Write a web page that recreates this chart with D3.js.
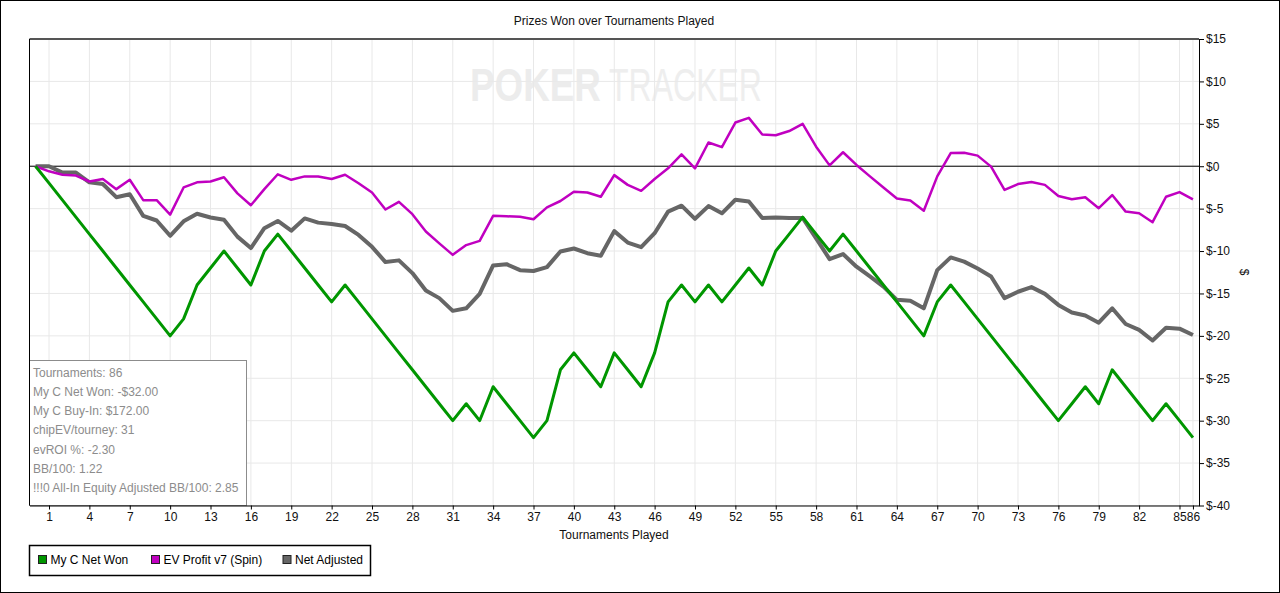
<!DOCTYPE html>
<html>
<head>
<meta charset="utf-8">
<script src="https://cdn.jsdelivr.net/npm/d3@7"></script>
<style>
  body { margin: 0; background: #fff; }
  svg { display: block; font-family: "Liberation Sans", Arial, sans-serif; }
</style>
</head>
<body>
<div class="canvas"></div>
<script>
// cumulative $ after each tournament (index 0 = start)
const netWon = [0,
  -2, -4, -6, -8, -10, -12, -14, -16, -18, -20,
  -18, -14, -12, -10, -12, -14, -10, -8, -10, -12,
  -14, -16, -14, -16, -18, -20, -22, -24, -26, -28,
  -30, -28, -30, -26, -28, -30, -32, -30, -24, -22,
  -24, -26, -22, -24, -26, -22, -16, -14, -16, -14,
  -16, -14, -12, -14, -10, -8, -6, -8, -10, -8,
  -10, -12, -14, -16, -18, -20, -16, -14, -16, -18,
  -20, -22, -24, -26, -28, -30, -28, -26, -28, -24,
  -26, -28, -30, -28, -30, -32];

const evProfit = [0,
  -0.6, -1.0, -1.1, -1.8, -1.5, -2.7, -1.6, -4.0, -4.0, -5.7,
  -2.5, -1.9, -1.8, -1.3, -3.2, -4.6, -2.7, -0.95, -1.6, -1.2,
  -1.2, -1.5, -1.0, -2.0, -3.1, -5.1, -4.2, -5.65, -7.7, -9.1,
  -10.45, -9.3, -8.8, -5.85, -5.9, -5.95, -6.25, -4.85, -4.1, -3.0,
  -3.1, -3.6, -1.05, -2.2, -2.9, -1.5, -0.25, 1.4, -0.25, 2.8,
  2.25, 5.15, 5.7, 3.75, 3.65, 4.15, 5.0, 2.3, 0.1, 1.65,
  0.15, -1.2, -2.5, -3.8, -4.05, -5.25, -1.2, 1.55, 1.6, 1.25,
  -0.05, -2.8, -2.1, -1.85, -2.2, -3.5, -3.9, -3.65, -4.95, -3.4,
  -5.35, -5.55, -6.6, -3.6, -3.05, -3.9];

const netAdjusted = [0,
  0, -0.75, -0.75, -1.9, -2.1, -3.65, -3.3, -5.85, -6.4, -8.2,
  -6.5, -5.6, -6.05, -6.3, -8.3, -9.65, -7.3, -6.45, -7.6, -6.15,
  -6.65, -6.8, -7.05, -8.1, -9.5, -11.3, -11.1, -12.6, -14.65, -15.55,
  -17.05, -16.75, -15.05, -11.7, -11.55, -12.25, -12.35, -11.9, -10.05, -9.7,
  -10.25, -10.55, -7.65, -9.0, -9.55, -7.9, -5.35, -4.65, -6.2, -4.7,
  -5.55, -3.95, -4.15, -6.1, -6.05, -6.1, -6.1, -8.5, -10.95, -10.35,
  -11.85, -13.0, -14.2, -15.75, -15.85, -16.75, -12.25, -10.75, -11.25, -12.05,
  -13.0, -15.55, -14.8, -14.25, -15.05, -16.35, -17.25, -17.6, -18.45, -16.75,
  -18.6, -19.3, -20.55, -19.05, -19.15, -19.9];

const xTicks = [1, 4, 7, 10, 13, 16, 19, 22, 25, 28, 31, 34, 37, 40, 43, 46, 49,
  52, 55, 58, 61, 64, 67, 70, 73, 76, 79, 82, 85, 86];
const yTicks = [15, 10, 5, 0, -5, -10, -15, -20, -25, -30, -35, -40];

const seriesNames = ["My C Net Won", "EV Profit v7 (Spin)", "Net Adjusted"];
const seriesColors = ["#009600", "#c000c0", "#666666"];

const infoLines = [
  "Tournaments: 86",
  "My C Net Won: -$32.00",
  "My C Buy-In: $172.00",
  "chipEV/tourney: 31",
  "evROI %: -2.30",
  "BB/100: 1.22",
  "!!!0 All-In Equity Adjusted BB/100: 2.85"
];

const W = 1280, H = 593;
const plot = { left: 29.5, right: 1199, top: 39, bottom: 505.5 };

const svg = d3.select(".canvas").append("svg")
  .attr("width", W)
  .attr("height", H);

// outer frame
svg.append("rect")
  .attr("x", 0.5).attr("y", 0.5)
  .attr("width", W - 1).attr("height", H - 1)
  .attr("fill", "#fff")
  .attr("stroke", "#000");

const x = d3.scaleLinear().domain([-0.45, 86.45]).range([plot.left, plot.right]);
const y = d3.scaleLinear().domain([-40, 15]).range([plot.bottom, plot.top]);

// title
svg.append("text")
  .attr("x", 614).attr("y", 25)
  .attr("text-anchor", "middle")
  .attr("font-size", 12)
  .attr("fill", "#111")
  .text("Prizes Won over Tournaments Played");

// watermark: squeeze each word into its box
const fitWord = (word, x0, width, weight, color) => {
  const t = svg.append("text")
    .attr("font-size", 46)
    .attr("font-weight", weight)
    .attr("fill", color)
    .text(word);
  const len = t.node().getComputedTextLength();
  t.attr("transform", `translate(${x0}, 101) scale(${width / len}, 1)`);
};
fitWord("POKER", 470, 131, "bold", "#ececec");
fitWord("TRACKER", 609, 153, "normal", "#eeeeee");

// grid
const grid = svg.append("g").attr("class", "grid");
grid.selectAll(".vgrid").data(xTicks).join("line")
  .attr("x1", d => x(d)).attr("x2", d => x(d))
  .attr("y1", plot.top).attr("y2", plot.bottom)
  .attr("stroke", "#e8e8e8");
grid.selectAll(".hgrid").data(yTicks).join("line")
  .attr("x1", plot.left).attr("x2", plot.right)
  .attr("y1", d => y(d)).attr("y2", d => y(d))
  .attr("stroke", "#e8e8e8");

// zero line
svg.append("line")
  .attr("x1", plot.left).attr("x2", plot.right)
  .attr("y1", y(0)).attr("y2", y(0))
  .attr("stroke", "#000");

// info box
const info = svg.append("g");
info.append("rect")
  .attr("x", 29.5).attr("y", 360.5)
  .attr("width", 217).attr("height", 145)
  .attr("fill", "#fff")
  .attr("stroke", "#8c8c8c");
info.selectAll("text").data(infoLines).join("text")
  .attr("x", 33)
  .attr("y", (d, i) => 376.5 + i * 19.3)
  .attr("font-size", 12)
  .attr("fill", "#8c8c8c")
  .text(d => d);

// lines
const line = d3.line()
  .x((d, i) => x(i))
  .y(d => y(d));

svg.append("path")
  .datum(netAdjusted)
  .attr("fill", "none")
  .attr("stroke", seriesColors[2])
  .attr("stroke-width", 4)
  .attr("stroke-linejoin", "round")
  .attr("d", line);

svg.append("path")
  .datum(evProfit)
  .attr("fill", "none")
  .attr("stroke", seriesColors[1])
  .attr("stroke-width", 2.5)
  .attr("stroke-linejoin", "round")
  .attr("d", line);

svg.append("path")
  .datum(netWon)
  .attr("fill", "none")
  .attr("stroke", seriesColors[0])
  .attr("stroke-width", 3)
  .attr("stroke-linejoin", "round")
  .attr("d", line);

// plot frame
svg.append("line")
  .attr("x1", plot.left).attr("x2", plot.right)
  .attr("y1", plot.top).attr("y2", plot.top)
  .attr("stroke", "#555").attr("stroke-width", 2);
svg.append("line")
  .attr("x1", plot.left).attr("x2", plot.left)
  .attr("y1", plot.top).attr("y2", plot.bottom)
  .attr("stroke", "#000");

// axes
const xAxis = d3.axisBottom(x)
  .tickValues(xTicks)
  .tickSize(4)
  .tickPadding(3)
  .tickSizeOuter(0);
const yAxis = d3.axisRight(y)
  .tickValues(yTicks)
  .tickFormat(d => "$" + d)
  .tickSize(5)
  .tickPadding(2)
  .tickSizeOuter(0);

const xAxisGroup = svg.append("g")
  .attr("transform", `translate(0, ${plot.bottom})`)
  .call(xAxis);
const yAxisGroup = svg.append("g")
  .attr("transform", `translate(${plot.right}, 0)`)
  .call(yAxis);

[xAxisGroup, yAxisGroup].forEach(g => {
  g.selectAll("text").attr("font-size", 12).attr("fill", "#111")
    .attr("font-family", "'Liberation Sans', Arial, sans-serif");
  g.selectAll("line").attr("stroke", "#000");
  g.select(".domain").attr("stroke", "#000");
});

// axis titles
svg.append("text")
  .attr("x", 614).attr("y", 539)
  .attr("text-anchor", "middle")
  .attr("font-size", 12)
  .attr("fill", "#111")
  .text("Tournaments Played");

svg.append("text")
  .attr("transform", `translate(1240, 272) rotate(90)`)
  .attr("text-anchor", "middle")
  .attr("font-size", 12)
  .attr("fill", "#111")
  .text("$");

// legend
const legend = svg.append("g");
legend.append("rect")
  .attr("x", 29.5).attr("y", 545.5)
  .attr("width", 341).attr("height", 30)
  .attr("fill", "#fff")
  .attr("stroke", "#000")
  .attr("stroke-width", 1.5);

const legendX = [38, 151, 282.5];
const items = legend.selectAll(".item").data(seriesNames).join("g")
  .attr("transform", (d, i) => `translate(${legendX[i]}, 555)`);
items.append("rect")
  .attr("width", 8).attr("height", 8)
  .attr("x", 0.5).attr("y", 0.5)
  .attr("fill", (d, i) => seriesColors[i])
  .attr("stroke", "#222");
items.append("text")
  .attr("x", 12.5).attr("y", 9)
  .attr("font-size", 12)
  .attr("fill", "#000")
  .text(d => d);
</script>
</body>
</html>
